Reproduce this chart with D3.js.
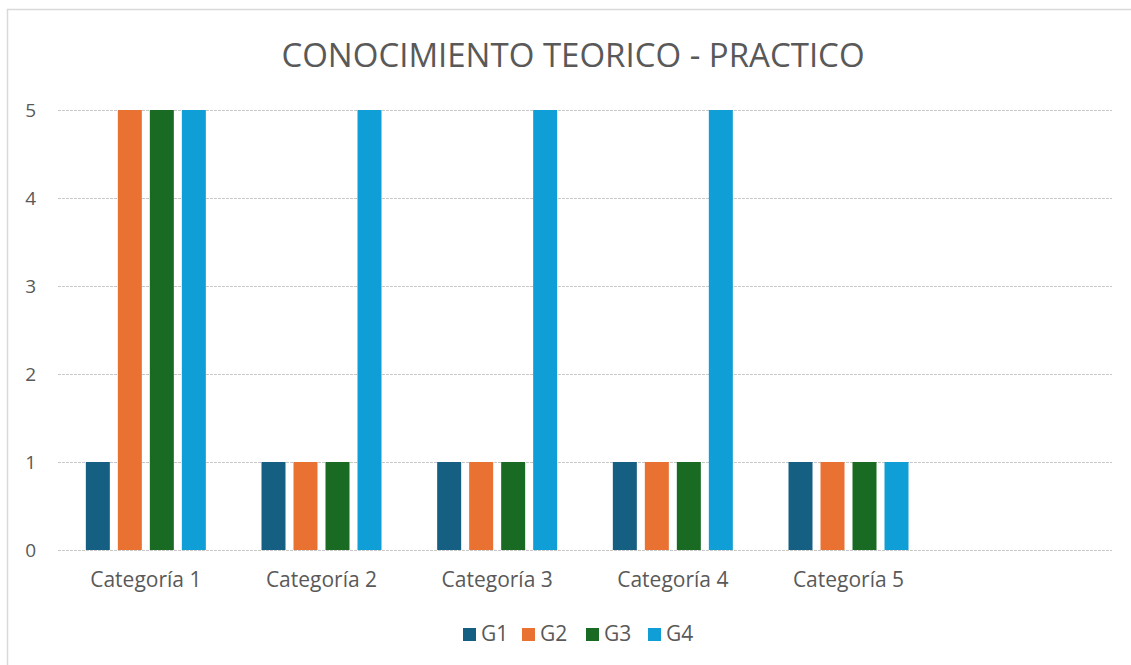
<!DOCTYPE html>
<html>
<head>
<meta charset="utf-8">
<script src="https://cdn.jsdelivr.net/npm/d3@7"></script>
<style>
  html, body { margin: 0; padding: 0; background: #fff; }
  svg { display: block; font-family: "Open Sans", "Noto Sans", sans-serif; }
</style>
</head>
<body>
<svg id="chart" width="1131" height="665"></svg>
<script>
// Categories (the last slot is an empty category kept by the axis)
const categories = ["Categoría 1", "Categoría 2", "Categoría 3", "Categoría 4", "Categoría 5", ""];
const seriesNames = ["G1", "G2", "G3", "G4"];
const G1 = [1, 1, 1, 1, 1];
const G2 = [5, 1, 1, 1, 1];
const G3 = [5, 1, 1, 1, 1];
const G4 = [5, 5, 5, 5, 1];
const seriesColors = ["#156082", "#E97132", "#196B24", "#0F9ED5"];
const yTicks = [0, 1, 2, 3, 4, 5];
const titleText = "CONOCIMIENTO TEORICO - PRACTICO";

const seriesValues = [G1, G2, G3, G4];

const svg = d3.select("#chart");
const W = 1131, H = 665;
const plot = { left: 58, right: 1112, top: 110, bottom: 550 };
const textColor = "#595959";

// Chart frame
svg.append("rect")
  .attr("x", 7.5).attr("y", 9.5)
  .attr("width", W + 10).attr("height", H + 10)
  .attr("fill", "#fff").attr("stroke", "#d9d9d9").attr("stroke-width", 1.5);

// Title
svg.append("text")
  .attr("x", 573).attr("y", 67)
  .attr("text-anchor", "middle")
  .attr("fill", textColor)
  .attr("font-size", 33)
  .text(titleText);

const x = d3.scaleBand().domain(categories).range([plot.left, plot.right]).padding(0);
const y = d3.scaleLinear().domain([0, 5]).range([plot.bottom, plot.top]);

// Bars within each category: 4 bars of 24px with 8px gaps
const groupWidth = 120;
const x1 = d3.scaleBand().domain(seriesNames)
  .range([(x.bandwidth() - groupWidth) / 2, (x.bandwidth() + groupWidth) / 2])
  .paddingInner(0.25).paddingOuter(0);

// Gridlines and value labels
const yAxis = d3.axisLeft(y).tickValues(yTicks).tickSize(-(plot.right - plot.left)).tickPadding(22).tickFormat(d3.format("d"));
const gy = svg.append("g").attr("transform", `translate(${plot.left},0)`).call(yAxis);
gy.select(".domain").remove();
gy.selectAll(".tick line")
  .attr("stroke", "#c8c8c8").attr("stroke-width", 1).attr("stroke-dasharray", "3,1");
gy.selectAll(".tick text")
  .attr("fill", textColor).attr("font-size", 19).attr("font-family", "\"Open Sans\", sans-serif");

// Bars
const groups = svg.append("g").selectAll("g")
  .data(categories.slice(0, 5))
  .join("g")
  .attr("transform", d => `translate(${x(d)},0)`);

groups.selectAll("rect")
  .data((d, i) => seriesNames.map((s, k) => ({ s, k, v: seriesValues[k][i] })))
  .join("rect")
  .attr("x", d => x1(d.s))
  .attr("width", x1.bandwidth())
  .attr("y", d => y(d.v))
  .attr("height", d => y(0) - y(d.v))
  .attr("fill", d => seriesColors[d.k]);

// Category axis labels
const xAxis = d3.axisBottom(x).tickSize(0).tickPadding(22);
const gx = svg.append("g").attr("transform", `translate(0,${plot.bottom})`).call(xAxis);
gx.select(".domain").remove();
gx.selectAll(".tick text")
  .attr("fill", textColor).attr("font-size", 21).attr("font-family", "\"Open Sans\", sans-serif");

// Legend
const legendX = [463, 522, 586, 648];
const legend = svg.append("g").selectAll("g")
  .data(seriesNames)
  .join("g")
  .attr("transform", (d, i) => `translate(${legendX[i]},628)`);
legend.append("rect").attr("width", 13).attr("height", 13)
  .attr("fill", (d, i) => seriesColors[i]);
legend.append("text")
  .attr("x", 18).attr("y", 13)
  .attr("fill", textColor).attr("font-size", 21)
  .text(d => d);
</script>
</body>
</html>
